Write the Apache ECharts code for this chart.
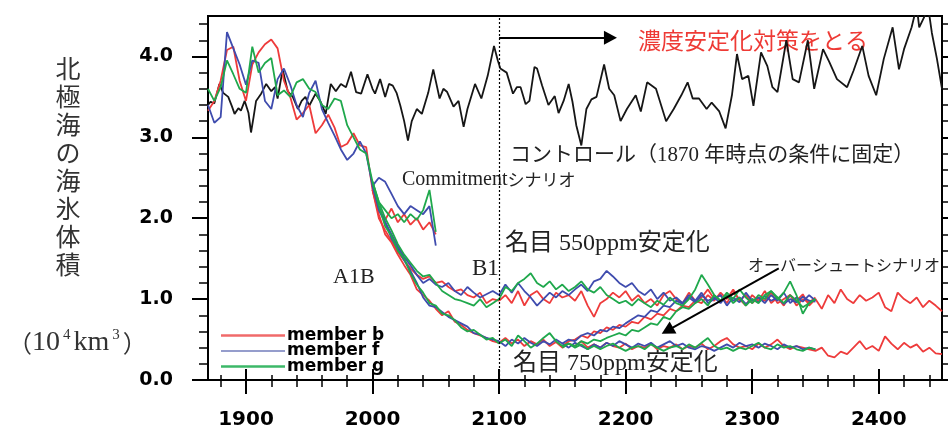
<!DOCTYPE html>
<html><head><meta charset="utf-8">
<script src="https://cdn.jsdelivr.net/npm/echarts@6/dist/echarts.min.js"></script>
<style>html,body{margin:0;padding:0;background:#fff}#c{width:948px;height:430px}</style>
</head><body><div id="c"></div>
<script>
// ---------- data ----------
const xTickLabels = [1900, 2000, 2100, 2200, 2300, 2400];
const xMinorTicks = [1880, 1900, 1920, 1940, 1960, 1980, 2000, 2020, 2040, 2060, 2080, 2100, 2120, 2140, 2160, 2180, 2200, 2220, 2240, 2260, 2280, 2300, 2320, 2340, 2360, 2380, 2400, 2420, 2440];
const yTickLabels = [0, 1, 2, 3, 4];
const yMinorTicks = [0.2, 0.4, 0.6, 0.8, 1.2, 1.4, 1.6, 1.8, 2.2, 2.4, 2.6, 2.8, 3.2, 3.4, 3.6, 3.8, 4.2, 4.4];
const legendNames = ['member b', 'member f', 'member g'];

const ctrlYears = [1870,1872,1875,1879,1882,1886,1889,1891,1894,1896,1899,1902,1904,1906,1908,1912,1916,1920,1923,1925,1929,1933,1937,1941,1944,1947,1950,1955,1959,1963,1967,1971,1975,1979,1983,1987,1991,1996,2000,2002,2006,2010,2013,2016,2019,2022,2025,2028,2031,2035,2039,2044,2048,2053,2056,2059,2064,2068,2072,2075,2081,2086,2091,2096,2099,2101,2106,2111,2114,2117,2121,2124,2128,2130,2134,2139,2144,2147,2151,2155,2158,2161,2165,2169,2173,2177,2183,2187,2191,2196,2201,2208,2212,2217,2224,2232,2238,2244,2249,2253,2258,2264,2268,2274,2279,2284,2288,2292,2297,2301,2307,2312,2316,2320,2327,2332,2337,2344,2349,2356,2361,2367,2375,2380,2387,2392,2398,2404,2411,2416,2420,2426,2430,2432,2436,2439,2442,2446,2450];
const ctrlValues = [3.40,3.44,3.42,3.66,3.55,3.50,3.38,3.29,3.36,3.33,3.45,3.30,3.06,3.25,3.45,3.54,3.66,3.57,3.62,3.48,3.84,3.57,3.50,3.35,3.45,3.50,3.39,3.54,3.44,3.29,3.66,3.57,3.66,3.62,3.81,3.56,3.54,3.78,3.60,3.54,3.72,3.50,3.66,3.64,3.55,3.39,3.20,2.96,3.20,3.35,3.29,3.55,3.84,3.48,3.60,3.56,3.38,3.45,3.13,3.35,3.66,3.48,3.76,4.13,3.95,3.85,3.80,3.54,3.62,3.62,3.41,3.45,3.87,3.85,3.64,3.40,3.51,3.30,3.45,3.66,3.44,3.15,2.90,3.35,3.47,3.50,3.90,3.60,3.52,3.20,3.35,3.52,3.32,3.68,3.60,3.20,3.35,3.52,3.68,3.48,3.48,3.35,3.43,3.32,3.11,3.52,4.03,3.72,3.76,3.39,4.05,3.88,3.62,3.56,4.20,3.72,3.68,4.20,3.60,4.09,3.93,3.72,3.62,3.82,4.13,3.76,3.52,3.97,4.36,3.84,4.09,4.36,4.62,4.36,4.49,4.62,4.29,3.97,3.60];

// historical run 1870-2000 (every 5 years)
const histB = [3.33,3.45,3.70,4.08,4.12,3.70,3.45,3.90,4.05,4.15,4.21,4.10,3.70,3.50,3.22,3.30,3.40,3.05,3.15,3.28,3.12,2.88,2.92,3.05,2.90,2.88,2.35];
const histF = [3.40,3.18,3.25,4.30,4.10,3.90,3.65,3.95,3.92,3.45,3.35,3.72,3.85,3.65,3.40,3.25,3.55,3.70,3.35,3.18,3.02,2.85,2.72,2.80,2.95,2.80,2.40];
const histG = [3.60,3.45,3.62,3.95,3.78,3.60,3.55,4.12,3.80,3.92,3.98,3.52,3.58,3.50,3.68,3.72,3.60,3.56,3.40,3.35,3.48,3.45,3.15,3.00,2.85,2.80,2.45];
// commitment 2000-2050
const commitB = [2.35,2.10,1.98,2.12,1.95,2.05,1.92,2.00,1.86,1.95,1.80];
const commitF = [2.40,2.50,2.45,2.30,2.15,2.05,2.15,2.10,2.05,2.15,1.66];
const commitG = [2.45,2.20,2.10,2.00,2.05,1.95,2.05,1.98,2.10,2.35,1.83];
// A1B 2000-2100
const a1bB = [2.35,2.05,1.80,1.70,1.55,1.42,1.30,1.12,1.05,0.98,0.88,0.80,0.85,0.72,0.68,0.62,0.58,0.55,0.52,0.48,0.46];
const a1bF = [2.40,2.15,1.95,1.75,1.62,1.48,1.35,1.20,1.02,0.92,0.90,0.84,0.78,0.74,0.70,0.66,0.58,0.56,0.52,0.50,0.48];
const a1bG = [2.45,2.15,1.90,1.78,1.60,1.50,1.32,1.18,1.08,0.95,0.92,0.82,0.80,0.74,0.65,0.60,0.62,0.56,0.50,0.52,0.45];
// B1 2000-2100
const b1B = [2.35,2.00,1.85,1.72,1.58,1.48,1.38,1.30,1.25,1.28,1.20,1.22,1.15,1.10,1.12,1.05,1.02,1.08,0.95,1.00,0.98];
const b1F = [2.40,2.10,1.95,1.80,1.65,1.52,1.42,1.30,1.20,1.25,1.18,1.15,1.20,1.10,1.05,1.15,1.08,1.02,1.06,1.10,1.05];
const b1G = [2.45,2.20,2.00,1.85,1.68,1.55,1.45,1.35,1.28,1.30,1.20,1.10,1.05,1.00,0.98,0.95,0.92,1.00,0.90,0.95,1.00];
// 550ppm stabilisation from 2100
const s550B = [0.98,1.05,0.95,1.10,0.92,1.05,1.10,1.00,0.95,1.08,1.02,1.05,0.98,1.10,0.92,0.78,0.95,1.00,1.08,1.02,1.10,0.98,1.05,0.95,1.00,0.92,1.05,1.10,1.00,0.95,1.08,0.98,1.02,1.12,1.00,1.05,0.95,1.08,1.00,0.92,1.05,0.98,1.10,0.95,1.02,0.92,1.05,0.98,1.06,0.92,1.00,0.88,1.05,0.95,1.12,1.00,0.95,1.05,0.98,1.02,1.08,0.90,0.85,1.08,1.00,0.95,1.02,0.90,0.98,0.92,0.85];
const s550F = [1.05,1.18,1.08,1.20,1.10,1.02,0.92,1.00,1.08,1.02,1.10,1.05,1.12,1.18,1.10,1.22,1.25,1.35,1.28,1.20,1.15,1.20,1.10,1.05,1.12,1.00,1.08,0.98,1.02,0.95,1.05,0.98,1.08,0.95,1.00,1.05,0.92,1.02,0.96,1.08,0.98,1.02,0.95,1.05,0.98,1.08,0.95,1.02,0.97,1.05,0.98];
const s550G = [1.00,1.15,1.10,1.20,1.25,1.32,1.20,1.15,1.22,1.12,1.18,1.10,1.15,1.22,1.12,1.08,1.15,1.05,1.00,0.95,0.98,0.92,1.00,0.95,0.90,0.98,0.93,1.02,0.95,0.92,1.00,1.12,1.30,1.18,1.05,0.98,1.05,0.95,1.02,0.92,1.00,0.95,1.05,1.10,1.00,1.08,1.22,1.05,0.82,0.95,1.00];
// 750ppm stabilisation from 2100
const s750B = [0.46,0.52,0.45,0.50,0.42,0.48,0.44,0.50,0.42,0.47,0.40,0.45,0.42,0.48,0.40,0.44,0.40,0.46,0.42,0.40,0.45,0.38,0.42,0.40,0.45,0.38,0.42,0.40,0.44,0.38,0.42,0.40,0.45,0.38,0.42,0.48,0.52,0.44,0.40,0.42,0.38,0.45,0.40,0.44,0.50,0.42,0.38,0.42,0.40,0.38,0.36,0.40,0.30,0.28,0.35,0.32,0.40,0.48,0.38,0.42,0.36,0.54,0.45,0.38,0.46,0.40,0.44,0.35,0.40,0.33,0.32];
const s750F = [0.48,0.42,0.50,0.45,0.52,0.46,0.42,0.48,0.44,0.50,0.45,0.40,0.46,0.42,0.38,0.44,0.40,0.46,0.42,0.48,0.44,0.40,0.45,0.42,0.46,0.40,0.44,0.48,0.42,0.45,0.40,0.38,0.42,0.40,0.36,0.40,0.44,0.40,0.46,0.42,0.44,0.40,0.45,0.42,0.38,0.44,0.40,0.42,0.38,0.40,0.38];
const s750G = [0.45,0.50,0.42,0.55,0.48,0.40,0.45,0.52,0.58,0.48,0.42,0.45,0.40,0.44,0.38,0.42,0.38,0.42,0.45,0.40,0.36,0.40,0.42,0.38,0.44,0.40,0.36,0.40,0.42,0.38,0.44,0.40,0.46,0.52,0.42,0.38,0.40,0.36,0.40,0.38,0.42,0.46,0.40,0.38,0.44,0.40,0.42,0.38,0.36,0.40,0.38];
// overshoot scenario from 2150
const overB = [0.42,0.48,0.50,0.55,0.52,0.60,0.58,0.65,0.62,0.68,0.66,0.72,0.70,0.78,0.75,0.82,0.80,0.88,0.85,0.92,0.90,0.98,0.95,1.05,0.98,1.08,1.00,1.12,0.98,1.05,0.95,1.02,0.98,1.08,0.95,1.00,1.05,0.92,1.00,0.96,1.02];
const overF = [0.45,0.50,0.48,0.55,0.58,0.55,0.62,0.60,0.66,0.64,0.70,0.75,0.80,0.78,0.86,0.84,0.92,0.90,0.98,0.94,1.02,0.96,1.05,0.98,1.02,0.95,1.05,0.98,1.02,0.94,1.00,0.96,1.04,0.98,1.02,0.94,1.00,0.96,1.03,0.98,0.97];
const overG = [0.40,0.45,0.42,0.48,0.45,0.50,0.48,0.52,0.55,0.58,0.55,0.62,0.60,0.65,0.70,0.68,0.78,0.75,0.85,0.90,0.88,0.95,1.00,0.92,1.05,0.98,1.08,1.00,1.12,1.02,0.95,1.05,1.00,1.10,1.02,0.95,1.05,0.98,0.90,0.95,1.00];

// ---------- build ----------
function yrs(a, n) { const r = []; for (let i = 0; i < n; i++) r.push(a + 5 * i); return r; }
function pairs(start, vals) { const ys = yrs(start, vals.length); return vals.map((v, i) => [ys[i], v]); }

const COL = { 'member b': '#ee3b3b', 'member f': '#3f4cae', 'member g': '#1fa84c' };
const LW = 1.8;
function ln(name, data) {
  return { name, type: 'line', data, showSymbol: false, symbol: 'none', clip: true, animation: false,
    lineStyle: { color: COL[name], width: LW }, itemStyle: { color: COL[name] }, z: 3 };
}
const members = [
  ['member b', histB, commitB, a1bB, b1B, s550B, s750B, overB],
  ['member f', histF, commitF, a1bF, b1F, s550F, s750F, overF],
  ['member g', histG, commitG, a1bG, b1G, s550G, s750G, overG]
];
const series = [];
series.push({ name: 'control', type: 'line', showSymbol: false, symbol: 'none', clip: true, animation: false,
  data: ctrlValues.map((v, i) => [ctrlYears[i], v]), lineStyle: { color: '#161616', width: 1.8 }, z: 2 });
members.forEach(m => {
  const [name, h, c, a, b, s5, s7, o] = m;
  series.push(ln(name, pairs(1870, h)));
  series.push(ln(name, pairs(2000, c)));
  series.push(ln(name, pairs(2000, a)));
  series.push(ln(name, pairs(2000, b)));
  series.push(ln(name, pairs(2100, s5)));
  series.push(ln(name, pairs(2100, s7)));
  series.push(ln(name, pairs(2150, o)));
});
// annotation lines (dotted 2100 line and arrows)
series.push({ type: 'line', data: [], silent: true, animation: false,
  markLine: { silent: true, animation: false, label: { show: false },
    data: [
      [{ coord: [2100, 0], symbol: 'none', lineStyle: { type: [2, 2], width: 1.2, color: '#000' } }, { coord: [2100, 4.5], symbol: 'none' }],
      [{ coord: [2100, 4.23], symbol: 'none', lineStyle: { type: 'solid', width: 2, color: '#000' } }, { coord: [2188, 4.23], symbol: 'triangle', symbolSize: [14, 13] }],
      [{ coord: [2321, 1.38], symbol: 'none', lineStyle: { type: 'solid', width: 2, color: '#000' } }, { coord: [2233, 0.61], symbol: 'triangle', symbolSize: [14, 13] }]
    ] } });

const tickFont = { color: '#000', fontFamily: 'DejaVu Sans', fontWeight: 'bold' };
function xAx(pos, vals, len, w, labels) {
  return { type: 'value', min: 1870, max: 2450, position: pos, axisLine: { show: false }, splitLine: { show: false },
    axisTick: { show: true, inside: false, length: len, customValues: vals, lineStyle: { color: '#000', width: w } },
    axisLabel: labels ? Object.assign({ show: true, customValues: vals, margin: 30, fontSize: 20, formatter: v => String(v) }, tickFont) : { show: false } };
}
function yAx(pos, vals, len, w, labels) {
  return { type: 'value', min: 0, max: 4.5, position: pos, axisLine: { show: false }, splitLine: { show: false },
    axisTick: { show: true, inside: false, length: len, customValues: vals, lineStyle: { color: '#000', width: w } },
    axisLabel: labels ? Object.assign({ show: true, customValues: vals, margin: 35, fontSize: 19, formatter: v => v.toFixed(1) }, tickFont) : { show: false } };
}

const txt = '#222';
const mix = "'Liberation Serif', 'Noto Sans CJK JP', serif";
const thick = 'path://M0,0H100V4.2H0Z';
const thin = 'path://M0,0H100V1.8H0Z';
const chart = echarts.init(document.getElementById('c'), null, { renderer: 'canvas' });
chart.setOption({
  animation: false,
  backgroundColor: '#fff',
  grid: { left: 208, top: 16, width: 734, height: 368, show: true, borderColor: '#000', borderWidth: 2, backgroundColor: 'transparent' },
  xAxis: [xAx('bottom', xTickLabels, 14, 2, true), xAx('bottom', xMinorTicks, 7, 1.5, false), xAx('top', xTickLabels, 11, 2, false), xAx('top', xMinorTicks, 5, 1.5, false)],
  yAxis: [yAx('left', yTickLabels, 16, 2, true), yAx('left', yMinorTicks, 9, 1.5, false), yAx('right', yTickLabels, 9, 2, false), yAx('right', yMinorTicks, 7, 1.5, false)],
  legend: { data: [
      { name: legendNames[0], icon: thick, itemStyle: { color: '#f06a6a' } },
      { name: legendNames[1], icon: thin, itemStyle: { color: '#2c3c9a' } },
      { name: legendNames[2], icon: thick, itemStyle: { color: '#3cb868' } }],
    orient: 'vertical', left: 221, top: 327, padding: 0, itemWidth: 64, itemHeight: 14, itemGap: -1.5, selectedMode: false, symbolKeepAspect: true,
    textStyle: { color: '#000', fontFamily: 'DejaVu Sans', fontWeight: 'bold', fontSize: 17, lineHeight: 14, padding: [0, 0, 0, -3] } },
  series,
  graphic: [
    { type: 'text', x: 68, y: 54, style: { text: '北\n極\n海\nの\n海\n氷\n体\n積', fontSize: 25, lineHeight: 28, fontFamily: "'Noto Sans CJK JP'", fill: '#333', align: 'center', verticalAlign: 'top' } },
    { type: 'text', x: 8, y: 343, style: { text: '{p|（}{n|10}{s|4}{n|km}{s|3}{p|）}', verticalAlign: 'middle', fill: '#333',
      rich: { p: { fontSize: 24, fontFamily: "'Noto Sans CJK JP'", fill: '#333', lineHeight: 30 },
              n: { fontSize: 28, fontFamily: "'Liberation Serif'", fill: '#333', lineHeight: 30 },
              s: { fontSize: 15, fontFamily: "'Liberation Serif'", fill: '#333', lineHeight: 16, verticalAlign: 'top', padding: [0, 3, 0, 3] } } } },
    { type: 'text', x: 638, y: 40, style: { text: '濃度安定化対策をとる', fontSize: 23, fontFamily: "'Noto Sans CJK JP'", fill: '#ee3a35', verticalAlign: 'middle' } },
    { type: 'text', x: 510, y: 155, style: { text: 'コントロール（1870 年時点の条件に固定）', fontSize: 21, fontFamily: mix, fill: txt, verticalAlign: 'middle' } },
    { type: 'text', x: 402, y: 180, style: { text: '{a|Commitment}{b|シナリオ}', verticalAlign: 'middle',
      rich: { a: { fontSize: 20, fontFamily: "'Liberation Serif'", fill: txt }, b: { fontSize: 17, fontFamily: "'Noto Sans CJK JP'", fill: txt } } } },
    { type: 'text', x: 333, y: 277, style: { text: 'A1B', fontSize: 22, fontFamily: "'Liberation Serif'", fill: txt, verticalAlign: 'middle' } },
    { type: 'text', x: 472, y: 269, style: { text: 'B1', fontSize: 23, fontFamily: "'Liberation Serif'", fill: txt, verticalAlign: 'middle' } },
    { type: 'text', x: 505, y: 244, style: { text: '名目 550ppm安定化', fontSize: 24, fontFamily: mix, fill: txt, verticalAlign: 'middle' } },
    { type: 'text', x: 513, y: 364, style: { text: '名目 750ppm安定化', fontSize: 24, fontFamily: mix, fill: txt, verticalAlign: 'middle' } },
    { type: 'text', x: 748, y: 265, style: { text: 'オーバーシュートシナリオ', fontSize: 16, fontFamily: "'Noto Sans CJK JP'", fill: txt, verticalAlign: 'middle' } }
  ]
});
</script></body></html>
